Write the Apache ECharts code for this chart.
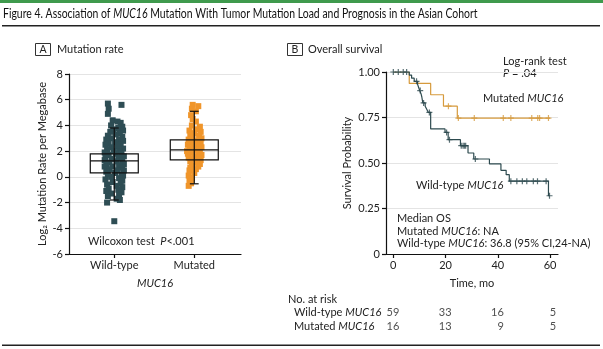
<!DOCTYPE html>
<html><head><meta charset="utf-8">
<script src="https://cdn.jsdelivr.net/npm/echarts@6/dist/echarts.min.js"></script>
<style>html,body{margin:0;padding:0;background:#fff}#c{width:603px;height:349px}</style>
</head><body><div id="c"></div>
<script>
// ---------- Panel A data ----------
const groups = ['Wild-type', 'Mutated'];
const yTicksA = [-6, -4, -2, 0, 2, 4, 6, 8];
const wildTypeRates = [5.7,5.6,5.3,4.9,4.4,4.3,4.2,4.0,3.9,3.8,3.7,3.6,3.5,3.4,3.3,3.2,3.1,3.0,2.9,2.9,2.8,2.7,2.6,2.5,2.5,2.4,2.3,2.2,2.1,2.0,2.0,1.9,1.8,1.8,1.7,1.6,1.5,1.5,1.4,1.3,1.3,1.2,1.1,1.0,1.0,0.9,0.8,0.8,0.7,0.6,0.5,0.5,0.4,0.3,0.2,0.2,0.1,0.0,-0.1,-0.2,-0.3,-0.4,-0.5,-0.6,-0.7,-0.8,-0.9,-1.0,-1.1,-1.2,-1.3,-1.4,-1.5,-1.7,-1.8,-2.0,-3.45];
const wildTypeJitter = [-0.08,0.09,-0.07,-0.08,-0.02,0.04,0.08,-0.04,0.10,0.05,-0.01,0.11,-0.05,0.07,0.02,-0.08,0.10,-0.03,0.06,-0.10,0.11,0.01,-0.07,0.08,-0.11,0.04,-0.04,0.11,-0.09,0.06,-0.01,-0.12,0.09,0.02,-0.07,0.12,-0.11,0.05,-0.03,0.10,-0.12,0.03,-0.06,0.12,-0.10,0.06,-0.02,-0.12,0.10,-0.06,0.04,0.12,-0.10,0.01,0.09,-0.08,0.11,-0.04,0.06,-0.11,0.10,-0.02,0.08,-0.09,0.03,0.10,-0.07,0.05,-0.10,0.09,-0.04,0.06,-0.08,0.03,0.07,-0.09,0.0];
const mutatedRates = [5.6,5.5,5.3,5.1,4.8,4.5,4.3,4.0,3.9,3.7,3.6,3.5,3.4,3.3,3.2,3.1,3.0,2.9,2.8,2.7,2.6,2.5,2.4,2.4,2.3,2.2,2.1,2.0,2.0,1.9,1.8,1.8,1.7,1.6,1.5,1.5,1.4,1.3,1.2,1.1,1.0,0.9,0.8,0.7,0.6,0.5,0.3,0.1,-0.1,-0.3,-0.5,-0.7];
const mutatedJitter = [-0.02,0.05,-0.03,0.02,-0.04,-0.02,0.02,-0.03,0.07,0.02,-0.06,0.08,0.0,-0.05,0.06,-0.02,0.09,-0.07,0.03,-0.03,0.08,-0.08,0.04,-0.01,0.09,-0.06,0.02,-0.09,0.07,-0.03,0.05,-0.08,0.09,0.0,-0.07,0.06,-0.02,0.08,-0.05,0.03,0.07,-0.03,0.05,-0.05,0.02,-0.06,0.0,-0.07,-0.03,-0.06,-0.04,-0.07];
// box stats: [min, Q1, median, Q3, max]
const wildTypeBox = [-1.8, 0.31, 1.24, 1.79, 3.8];
const mutatedBox = [-0.54, 1.32, 2.10, 2.88, 5.1];

// ---------- Panel B data ----------
const timeTicks = [0, 20, 40, 60];
const survTicks = [0, 0.25, 0.5, 0.75, 1.0];
const wildTypeSteps = [[0,1],[6.1,0.983],[7.0,0.966],[8.0,0.949],[9.3,0.932],[9.7,0.915],[10.1,0.898],[10.6,0.881],[10.9,0.864],[11.1,0.847],[11.3,0.830],[12.2,0.812],[12.8,0.795],[13.4,0.778],[14.3,0.687],[19.8,0.668],[21.0,0.628],[25.7,0.595],[28.6,0.555],[30.8,0.522],[36.8,0.495],[41.2,0.460],[43.2,0.436],[44.4,0.400],[59.4,0.320],[60.0,0.320]];
const wildTypeCensored = [[0,1],[1.9,1],[3.8,1],[5.1,1],[8.9,0.949],[10.3,0.898],[11.6,0.830],[13.8,0.778],[20.4,0.668],[21.5,0.628],[26.0,0.595],[26.7,0.595],[27.2,0.595],[27.7,0.595],[31.4,0.522],[45.0,0.400],[47.3,0.400],[49.4,0.400],[51.1,0.400],[53.6,0.400],[55.2,0.400],[58.5,0.400],[59.8,0.320]];
const mutatedSteps = [[0,1],[6.1,0.9375],[14.3,0.875],[19.2,0.8125],[24.5,0.747],[60,0.747]];
const mutatedCensored = [[21.1,0.8125],[24.9,0.747],[31.0,0.747],[42.1,0.747],[45.0,0.747],[53.0,0.747],[55.3,0.747],[56.0,0.747],[59.4,0.747]];
const riskRows = ['Mutated', 'Wild-type'];
const riskWildType = [59, 33, 16, 5];
const riskMutated = [16, 13, 9, 5];

// ---------- styling ----------
const F = "Lato, 'Liberation Sans', sans-serif";
const FS = 11;
const TXT = '#222';
const DARK = '#2e4d54', ORANGE = '#f0952a';
const KM_DARK = '#2d4a4f', KM_ORANGE = '#d69a3c';
const GRID = '#e4e4e4';
const ital = { i: { fontStyle: 'italic', fontFamily: F, fontSize: FS, fill: TXT } };

function text(x, y, t, o) {
  o = o || {};
  const fs = o.fontSize || FS;
  const el = { type: 'text', x: x, y: y, silent: true, style: {
    text: t, fill: o.fill || TXT, fontFamily: F, fontSize: fs,
    fontWeight: o.fontWeight || 'normal',
    align: o.align || 'left', verticalAlign: 'middle',
    rich: { i: { fontStyle: 'italic', fontFamily: F, fontSize: fs, fill: o.fill || TXT, fontWeight: o.fontWeight || 'normal' } }
  } };
  if (o.scaleX) el.scaleX = o.scaleX;
  return el;
}

const chart = echarts.init(document.getElementById('c'), null, { renderer: 'canvas' });

const plus = 'path://M5,0L5,10M0,5L10,5';
const axisLineStyle = { color: '#111', width: 1.2 };
const labelStyle = { fontFamily: F, fontSize: FS, color: TXT };

const option = {
  animation: false,
  backgroundColor: '#fff',
  grid: [
    { left: 69, top: 74, width: 172, height: 180 },
    { left: 386, top: 72, width: 172, height: 182 },
    { left: 386, top: 305, width: 172, height: 28 }
  ],
  xAxis: [
    { type: 'value', gridIndex: 0, min: -0.566, max: 1.584,
      axisLine: { onZero: false, lineStyle: axisLineStyle },
      axisTick: { customValues: [0, 1], length: 4, lineStyle: axisLineStyle },
      axisLabel: Object.assign({ customValues: [0, 1], margin: 6, formatter: v => groups[Math.round(v)] }, labelStyle),
      splitLine: { show: false },
      name: '{i|MUC16}', nameLocation: 'middle', nameGap: 24,
      nameTextStyle: { fontFamily: F, fontSize: FS, color: TXT, rich: ital } },
    { type: 'value', gridIndex: 1, min: -2.8, max: 63.05,
      axisLine: { onZero: false, lineStyle: axisLineStyle },
      axisTick: { customValues: timeTicks, length: 4, lineStyle: axisLineStyle },
      axisLabel: Object.assign({ customValues: timeTicks, margin: 6 }, labelStyle),
      splitLine: { show: false },
      name: 'Time, mo', nameLocation: 'middle', nameGap: 24,
      nameTextStyle: { fontFamily: F, fontSize: FS, color: TXT } },
    { type: 'value', gridIndex: 2, min: -2.8, max: 63.05, show: false }
  ],
  yAxis: [
    { type: 'value', gridIndex: 0, min: -6, max: 8, interval: 2,
      axisLine: { show: true, onZero: false, lineStyle: axisLineStyle },
      axisTick: { show: true, length: 4, lineStyle: axisLineStyle },
      axisLabel: Object.assign({ margin: 6 }, labelStyle),
      splitLine: { show: true, lineStyle: { color: GRID, width: 1 } },
      name: 'Log\u2082 Mutation Rate per Megabase', nameLocation: 'middle', nameGap: 21,
      nameTextStyle: { fontFamily: F, fontSize: FS, color: TXT } },
    { type: 'value', gridIndex: 1, min: 0, max: 1, interval: 0.25,
      axisLine: { show: true, onZero: false, lineStyle: axisLineStyle },
      axisTick: { show: true, length: 4, lineStyle: axisLineStyle },
      axisLabel: Object.assign({ margin: 6, formatter: v => v === 0 ? '0' : v.toFixed(2) }, labelStyle),
      splitLine: { show: true, lineStyle: { color: GRID, width: 1 } },
      name: 'Survival Probability', nameLocation: 'middle', nameGap: 33,
      nameTextStyle: { fontFamily: F, fontSize: FS, color: TXT } },
    { type: 'category', gridIndex: 2, data: riskRows, show: false }
  ],
  series: [
    { type: 'scatter', xAxisIndex: 0, yAxisIndex: 0, symbol: 'rect', symbolSize: 6,
      itemStyle: { color: DARK, opacity: 1 },
      data: wildTypeRates.map((v, i) => [0 + (wildTypeJitter[i] || 0), v]) },
    { type: 'scatter', xAxisIndex: 0, yAxisIndex: 0, symbol: 'rect', symbolSize: 6,
      itemStyle: { color: ORANGE, opacity: 1 },
      data: mutatedRates.map((v, i) => [1 + (mutatedJitter[i] || 0), v]) },
    { type: 'custom', xAxisIndex: 0, yAxisIndex: 0, z: 5,
      encode: { x: 0, y: [1, 2, 3, 4, 5] },
      data: [[0].concat(wildTypeBox), [1].concat(mutatedBox)],
      renderItem: function (params, api) {
        const x = api.value(0);
        const mn = api.value(1), q1 = api.value(2), md = api.value(3), q3 = api.value(4), mx = api.value(5);
        const hw = api.size([0.6, 0])[0] / 2;
        const cw = api.size([0.11, 0])[0] / 2;
        const pMn = api.coord([x, mn]), pQ1 = api.coord([x, q1]), pMd = api.coord([x, md]), pQ3 = api.coord([x, q3]), pMx = api.coord([x, mx]);
        const st = { stroke: '#111', lineWidth: 1.2, fill: null };
        return { type: 'group', children: [
          { type: 'line', shape: { x1: pMn[0], y1: pMn[1], x2: pMx[0], y2: pMx[1] }, style: st },
          { type: 'line', shape: { x1: pMn[0] - cw, y1: pMn[1], x2: pMn[0] + cw, y2: pMn[1] }, style: st },
          { type: 'line', shape: { x1: pMx[0] - cw, y1: pMx[1], x2: pMx[0] + cw, y2: pMx[1] }, style: st },
          { type: 'rect', shape: { x: pQ3[0] - hw, y: pQ3[1], width: hw * 2, height: pQ1[1] - pQ3[1] }, style: { stroke: '#111', lineWidth: 1.2, fill: 'none' } },
          { type: 'line', shape: { x1: pMd[0] - hw, y1: pMd[1], x2: pMd[0] + hw, y2: pMd[1] }, style: st }
        ] };
      } },
    { type: 'line', xAxisIndex: 1, yAxisIndex: 1, step: 'end', showSymbol: false, z: 3,
      lineStyle: { color: KM_ORANGE, width: 1.2 }, data: mutatedSteps },
    { type: 'scatter', xAxisIndex: 1, yAxisIndex: 1, symbol: plus, symbolSize: 6, z: 3,
      itemStyle: { color: 'transparent', borderColor: KM_ORANGE, borderWidth: 1.2 }, data: mutatedCensored },
    { type: 'line', xAxisIndex: 1, yAxisIndex: 1, step: 'end', showSymbol: false, z: 4,
      lineStyle: { color: KM_DARK, width: 1.2 }, data: wildTypeSteps },
    { type: 'scatter', xAxisIndex: 1, yAxisIndex: 1, symbol: plus, symbolSize: 6, z: 4,
      itemStyle: { color: 'transparent', borderColor: KM_DARK, borderWidth: 1.2 }, data: wildTypeCensored },
    { type: 'scatter', xAxisIndex: 2, yAxisIndex: 2, symbolSize: 0,
      label: { show: true, position: 'inside', align: 'right', offset: [6, 0], fontFamily: F, fontSize: FS, color: TXT, formatter: p => String(p.value[2]) },
      data: timeTicks.map((t, i) => [t, 'Wild-type', riskWildType[i]]).concat(timeTicks.map((t, i) => [t, 'Mutated', riskMutated[i]])) }
  ],
  graphic: [
    { type: 'rect', shape: { x: 0, y: 0, width: 603, height: 3 }, style: { fill: '#3f9a4d' }, silent: true },
    text(3, 14, 'Figure 4. Association of {i|MUC16} Mutation With Tumor Mutation Load and Prognosis in the Asian Cohort', { fontSize: 12.5, fill: '#111', scaleX: 0.835 }),
    { type: 'rect', shape: { x: 2, y: 25, width: 598, height: 1.5 }, style: { fill: '#222' }, silent: true },
    { type: 'rect', shape: { x: 35.5, y: 43.5, width: 15, height: 12 }, style: { fill: 'none', stroke: '#333', lineWidth: 1 }, silent: true },
    text(43, 49.5, 'A', { align: 'center', fontSize: 10.5 }),
    text(57, 49, 'Mutation rate'),
    { type: 'rect', shape: { x: 287.5, y: 43.5, width: 15, height: 12 }, style: { fill: 'none', stroke: '#333', lineWidth: 1 }, silent: true },
    text(295, 49.5, 'B', { align: 'center', fontSize: 10.5 }),
    text(308, 49, 'Overall survival'),
    text(88, 241, 'Wilcoxon test  {i|P}<.001'),
    text(503, 61, 'Log-rank test'),
    text(503, 73, '{i|P} = .04'),
    text(483, 98, 'Mutated {i|MUC16}'),
    text(416, 185, 'Wild-type {i|MUC16}'),
    text(397, 218, 'Median OS'),
    text(397, 231, 'Mutated {i|MUC16}: NA'),
    text(397, 243, 'Wild-type {i|MUC16}: 36.8 (95% CI,24-NA)'),
    text(288, 299, 'No. at risk'),
    text(294, 312, 'Wild-type {i|MUC16}'),
    text(294, 326, 'Mutated {i|MUC16}'),
    { type: 'rect', shape: { x: 2, y: 344.5, width: 598, height: 1.5 }, style: { fill: '#222' }, silent: true }
  ]
};
chart.setOption(option);
</script>
</body></html>
